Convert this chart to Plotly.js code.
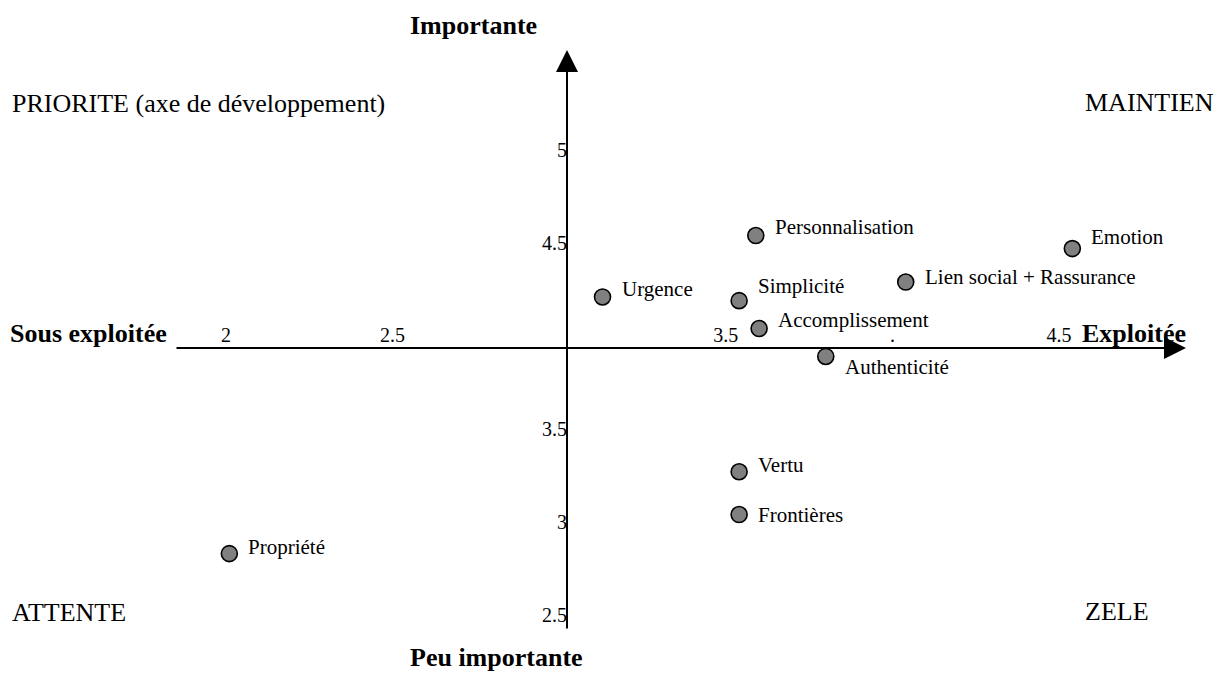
<!DOCTYPE html>
<html><head><meta charset="utf-8">
<script src="https://cdn.plot.ly/plotly-3.0.1.min.js"></script>
<style>html,body{margin:0;padding:0;background:#fff;} #chart{width:1228px;height:673px;}</style>
</head><body><div id="chart"></div>
<script>
// ---- data ----
const criteres = ['Personnalisation','Emotion','Urgence','Simplicité','Lien social + Rassurance','Accomplissement','Authenticité','Vertu','Frontières','Propriété'];
const exploitation = [3.59, 4.54, 3.13, 3.54, 4.04, 3.60, 3.80, 3.54, 3.54, 2.01];
const importance   = [4.54, 4.47, 4.21, 4.19, 4.29, 4.04, 3.89, 3.27, 3.04, 2.83];
const xTickVals = [2, 2.5, 3.5, 4, 4.5];
const xTickText = ['2', '2.5', '3.5', '.', '4.5'];
const yTickVals = [2.5, 3, 3.5, 4.5, 5];
const yTickText = ['2.5', '3', '3.5', '4.5', '5'];
const quadrantLabels = ['PRIORITE (axe de développement)', 'MAINTIEN', 'ATTENTE', 'ZELE'];
const axisLabels = ['Importante', 'Peu importante', 'Sous exploitée', 'Exploitée'];

// ---- layout helpers ----
const W = 1228, H = 673;
const FONT = 'Liberation Serif, Times New Roman, serif';
const labelShiftY = [9, 12, 8, 15, 5, 9, -11, 7, 0, 7];
const px = x => x / W, py = y => 1 - y / H;
const xAxisPixY = 348, yAxisPixX = 567;

const trace = {
  type: 'scatter', mode: 'markers',
  x: exploitation, y: importance, text: criteres,
  hoverinfo: 'text',
  marker: {size: 16, color: '#808080', line: {color: '#000', width: 1.6}},
  showlegend: false, cliponaxis: false
};

const annotations = [];
criteres.forEach((c, i) => {
  annotations.push({x: exploitation[i], y: importance[i], xref: 'x', yref: 'y', text: c,
    showarrow: false, xanchor: 'left', yanchor: 'middle', xshift: 17, yshift: labelShiftY[i],
    font: {family: FONT, size: 21, color: '#000'}});
});
// quadrant labels
const qPos = [[10, 103], [1083, 102], [10, 612], [1083, 611]];
quadrantLabels.forEach((t, i) => annotations.push({x: px(qPos[i][0]), y: py(qPos[i][1]), xref: 'paper', yref: 'paper',
  text: t, showarrow: false, xanchor: 'left', yanchor: 'middle', font: {family: FONT, size: 26, color: '#000'}}));
// axis names
const aPos = [[408, 26], [408, 657], [8, 333], [1080, 333]];
axisLabels.forEach((t, i) => annotations.push({x: px(aPos[i][0]), y: py(aPos[i][1]), xref: 'paper', yref: 'paper',
  text: '<b>' + t + '</b>', showarrow: false, xanchor: 'left', yanchor: 'middle', font: {family: FONT, size: 26, color: '#000'}}));
// axis arrows
annotations.push({x: px(1186), y: py(xAxisPixY), xref: 'paper', yref: 'paper', ax: -1011, ay: 0, text: '',
  showarrow: true, arrowhead: 2, arrowsize: 2.2, arrowwidth: 2, arrowcolor: '#000'});
annotations.push({x: px(yAxisPixX), y: py(50), xref: 'paper', yref: 'paper', ax: 0, ay: 580, text: '',
  showarrow: true, arrowhead: 2, arrowsize: 2.2, arrowwidth: 2, arrowcolor: '#000'});

const layout = {
  width: W, height: H, autosize: false,
  margin: {l: 0, r: 0, t: 0, b: 0},
  paper_bgcolor: '#fff', plot_bgcolor: '#fff',
  xaxis: {range: [2 - 226 / 333.2, 2 + (W - 226) / 333.2], anchor: 'free', position: py(xAxisPixY), side: 'top',
    showgrid: false, zeroline: false, showline: false, ticks: '', tickvals: xTickVals, ticktext: xTickText,
    tickfont: {family: FONT, size: 20, color: '#000'}, ticklabelstandoff: 2, fixedrange: true},
  yaxis: {range: [5 - (H - 150) / 186, 5 + 150 / 186], anchor: 'free', position: px(yAxisPixX), side: 'left',
    showgrid: false, zeroline: false, showline: false, ticks: '', tickvals: yTickVals, ticktext: yTickText,
    tickfont: {family: FONT, size: 20, color: '#000'}, ticklabelstandoff: 0, fixedrange: true},
  annotations: annotations,
  font: {family: FONT}
};
Plotly.newPlot('chart', [trace], layout, {displayModeBar: false, staticPlot: true});
</script></body></html>
